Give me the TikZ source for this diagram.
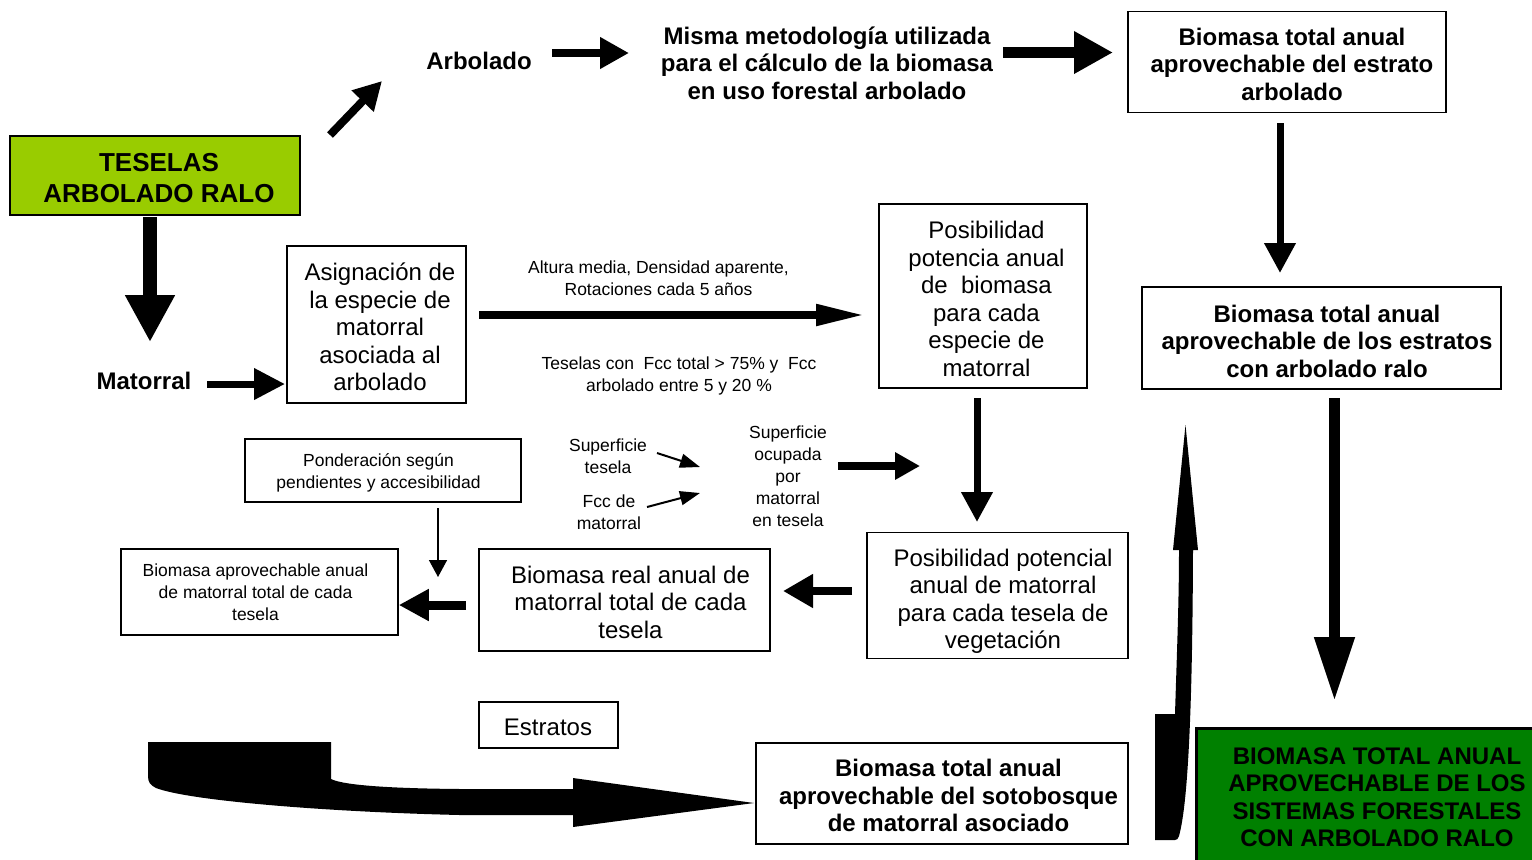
\documentclass[tikz,border=0pt]{standalone}
\usepackage{fontspec}
\setmainfont{Liberation Sans}
\usetikzlibrary{arrows.meta}
\definecolor{tesgreen}{RGB}{153,204,0}
\definecolor{fingreen}{RGB}{0,128,0}
\tikzset{
  big/.style={font=\fontsize{12pt}{13.75pt}\selectfont, align=center},
  bigb/.style={font=\fontsize{12pt}{13.75pt}\selectfont\bfseries, align=center},
  small/.style={font=\fontsize{8.75pt}{11pt}\selectfont, align=center},
  box/.style={draw, line width=0.75pt, fill=white, inner sep=0pt},
  lbl/.style={inner sep=0pt},
  barrow/.style n args={3}{line width=#1, -{Triangle[length=#2,width=#3]}},
  blockshape/.style={fill=black, draw=none},
}
\begin{document}
\begin{tikzpicture}[x=0.5pt,y=-0.5pt]
\useasboundingbox (0,0) rectangle (1532,859);
\clip (0,0) rectangle (1532,859);

% ---------- boxes ----------
\node[box, fill=tesgreen, minimum width=145pt, minimum height=39.5pt] (tes) at (155,175.5) {};
\node[box, minimum width=159pt, minimum height=50.5pt] (est) at (1287,62) {};
\node[box, minimum width=179.5pt, minimum height=51pt] (ral) at (1321.5,338) {};
\node[box, fill=fingreen, line width=1.5pt, minimum width=182pt, minimum height=69pt] (fin) at (1378,797) {};
\node[box, minimum width=89.5pt, minimum height=78.5pt] (asig) at (376.5,324.5) {};
\node[box, minimum width=104pt, minimum height=92pt] (pos1) at (983,296) {};
\node[box, minimum width=138pt, minimum height=31.5pt] (pond) at (383,470.5) {};
\node[box, minimum width=130.5pt, minimum height=63pt] (pos2) at (997.5,595.5) {};
\node[box, minimum width=145.5pt, minimum height=51pt] (real) at (624.5,600) {};
\node[box, minimum width=138.5pt, minimum height=43pt] (apro) at (259.5,592) {};
\node[box, minimum width=69.5pt, minimum height=23pt] (estr) at (548.5,725) {};
\node[box, minimum width=186pt, minimum height=50.5pt] (sot) at (942,793.5) {};

% ---------- texts ----------
\node[lbl, font=\fontsize{13pt}{15.5pt}\selectfont\bfseries, align=center] (tesT) at (159,178.5) {TESELAS\\ARBOLADO RALO};
\node[bigb, lbl] (estT) at (1292,64) {Biomasa total anual\\aprovechable del estrato\\arbolado};
\node[bigb, lbl] (ralT) at (1327,341) {Biomasa total anual\\aprovechable de los estratos\\con arbolado ralo};
\node[bigb, lbl] (finT) at (1377,797) {BIOMASA TOTAL ANUAL\\APROVECHABLE DE LOS\\SISTEMAS FORESTALES\\CON ARBOLADO RALO};
\node[big, lbl] (asigT) at (380,327) {Asignación de\\la especie de\\matorral\\asociada al\\arbolado};
\node[big, lbl] (pos1T) at (986.5,299) {Posibilidad\\potencia anual\\de~ biomasa\\para cada\\especie de\\matorral};
\node[small, lbl] (pondT) at (378.5,472.5) {Ponderación según\\pendientes y accesibilidad};
\node[big, lbl] (pos2T) at (1003,601.5) {Posibilidad potencial\\anual de matorral\\para cada tesela de\\vegetación};
\node[big, lbl] (realT) at (630.5,602) {Biomasa real anual de\\matorral total de cada\\tesela};
\node[small, lbl] (aproT) at (255.5,592.5) {Biomasa aprovechable anual\\de matorral total de cada\\tesela};
\node[big, lbl] (estrT) at (548,727.5) {Estratos};
\node[bigb, lbl] (sotT) at (948.5,795.5) {Biomasa total anual\\aprovechable del sotobosque\\de matorral asociado};

\node[bigb, lbl] (arb) at (479,61) {Arbolado};
\node[bigb, lbl] (mis) at (827,63) {Misma metodología utilizada\\para el cálculo de la biomasa\\en uso forestal arbolado};
\node[bigb, lbl] (mat) at (144,381) {Matorral};
\node[small, lbl] (lab1) at (658.5,278) {Altura media, Densidad aparente,\\Rotaciones cada 5 años};
\node[small, lbl] (lab2) at (679,375.5) {Teselas con~ Fcc total > 75\% y~ Fcc\\arbolado entre 5 y 20 \%};
\node[small, lbl] (sup) at (608,456.5) {Superficie\\tesela};
\node[small, lbl] (fcc) at (609,512) {Fcc de\\matorral};
\node[small, lbl] (ocup) at (788,476.5) {Superficie\\ocupada\\por\\matorral\\en tesela};

% ---------- arrow end points ----------
\coordinate (d1s) at (330,135);   \coordinate (d1e) at (382,81);
\coordinate (a2s) at (552,53);    \coordinate (a2e) at (629,53);
\coordinate (a3s) at (1003,52.5); \coordinate (a3e) at (1113,52.5);
\coordinate (a4s) at (1280,123);  \coordinate (a4e) at (1280,273);
\coordinate (a5s) at (1334.5,398);\coordinate (a5e) at (1334.5,701);
\coordinate (a6s) at (150,217);   \coordinate (a6e) at (150,342);
\coordinate (a7s) at (207,384);   \coordinate (a7e) at (285,384);
\coordinate (a8s) at (479,315);   \coordinate (a8e) at (865,315);
\coordinate (s1s) at (657,453);   \coordinate (s1e) at (700,467);
\coordinate (s2s) at (647,507);   \coordinate (s2e) at (700,493);
\coordinate (a9s) at (838,466);   \coordinate (a9e) at (920,466);
\coordinate (b1s) at (977,398);   \coordinate (b1e) at (977,522);
\coordinate (b2s) at (852,591);   \coordinate (b2e) at (783,591);
\coordinate (b3s) at (438,508);   \coordinate (b3e) at (438,577);
\coordinate (b4s) at (466,605);

% ---------- arrows ----------
\draw[barrow={4pt}{14pt}{14.5pt}] (d1s) -- (d1e);
\draw[barrow={4pt}{14.5pt}{15pt}] (a2s) -- (a2e);
\draw[barrow={5.5pt}{19.5pt}{20pt}] (a3s) -- (a3e);
\draw[barrow={3.5pt}{15pt}{15pt}] (a4s) -- (a4e);
\draw[barrow={5.5pt}{32pt}{19pt}] (a5s) -- (a5e);
\draw[barrow={7pt}{23.5pt}{23.5pt}] (a6s) -- (a6e);
\draw[barrow={3.5pt}{15.5pt}{15pt}] (a7s) -- (a7e);
\draw[barrow={4pt}{24.5pt}{10pt}] (a8s) -- (a8e);
\draw[barrow={1pt}{10pt}{7pt}] (s1s) -- (s1e);
\draw[barrow={1pt}{10pt}{7pt}] (s2s) -- (s2e);
\draw[barrow={3.75pt}{12.5pt}{13pt}] (a9s) -- (a9e);
\draw[barrow={3.5pt}{15pt}{15pt}] (b1s) -- (b1e);
\draw[barrow={4pt}{15pt}{16pt}] (b2s) -- (b2e);
\draw[barrow={0.75pt}{8.5pt}{9pt}] (b3s) -- (b3e);
\draw[barrow={4.5pt}{15pt}{15pt}] (b4s) -- (apro.east |- b4s);

% ---------- bent block arrows ----------
% bottom-left arrow into the sotobosque box
\fill[blockshape] (148,742) -- (331,742) -- (331,779)
  .. controls (345,786) and (400,788.5) .. (461,789) -- (573,789) -- (573,778)
  -- (754,803) -- (573,827) -- (573,815) -- (460,815)
  .. controls (330,812) and (190,801) .. (156,788)
  .. controls (150,785) and (148,782) .. (148,776) -- cycle;
% upward bent arrow
\fill[blockshape] (1185.5,425) -- (1198,550) -- (1193,550)
  .. controls (1192.5,690) and (1189,800) .. (1179,836)
  .. controls (1178,839) and (1177,840) .. (1175,840)
  -- (1155,840) -- (1155,714) -- (1175,714)
  .. controls (1177,650) and (1179,600) .. (1179,550) -- (1173,550) -- cycle;

\end{tikzpicture}
\end{document}
